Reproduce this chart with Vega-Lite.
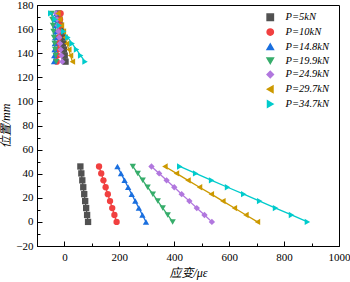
{
  "$schema": "https://vega.github.io/schema/vega-lite/v6.json",
  "width": 302,
  "height": 241,
  "autosize": {"type": "none"},
  "padding": {"left": 37, "top": 5, "right": 11, "bottom": 36},
  "background": "white",
  "config": {
    "view": {"stroke": "black", "strokeWidth": 1},
    "axis": {
      "grid": false,
      "domainColor": "black",
      "domainWidth": 1,
      "tickColor": "black",
      "labelFont": "Liberation Serif",
      "labelFontSize": 11,
      "labelColor": "black",
      "titleFont": "Liberation Serif, Noto Sans CJK SC",
      "titleFontSize": 12,
      "titleFontWeight": "normal",
      "titleFontStyle": "italic",
      "titleColor": "black"
    }
  },
  "data": {
    "values": [
      {"P": "P=5kN", "grp": "b", "strain": 86, "pos": 0},
      {"P": "P=5kN", "grp": "b", "strain": 82.5, "pos": 5.75},
      {"P": "P=5kN", "grp": "b", "strain": 79, "pos": 11.5},
      {"P": "P=5kN", "grp": "b", "strain": 75.5, "pos": 17.25},
      {"P": "P=5kN", "grp": "b", "strain": 72, "pos": 23},
      {"P": "P=5kN", "grp": "b", "strain": 68.5, "pos": 28.75},
      {"P": "P=5kN", "grp": "b", "strain": 65, "pos": 34.5},
      {"P": "P=5kN", "grp": "b", "strain": 61.5, "pos": 40.25},
      {"P": "P=5kN", "grp": "b", "strain": 58, "pos": 46},
      {"P": "P=10kN", "grp": "b", "strain": 190, "pos": 0},
      {"P": "P=10kN", "grp": "b", "strain": 182, "pos": 5.75},
      {"P": "P=10kN", "grp": "b", "strain": 174, "pos": 11.5},
      {"P": "P=10kN", "grp": "b", "strain": 166, "pos": 17.25},
      {"P": "P=10kN", "grp": "b", "strain": 158, "pos": 23},
      {"P": "P=10kN", "grp": "b", "strain": 150, "pos": 28.75},
      {"P": "P=10kN", "grp": "b", "strain": 142, "pos": 34.5},
      {"P": "P=10kN", "grp": "b", "strain": 134, "pos": 40.25},
      {"P": "P=10kN", "grp": "b", "strain": 126, "pos": 46},
      {"P": "P=14.8kN", "grp": "b", "strain": 297, "pos": 0},
      {"P": "P=14.8kN", "grp": "b", "strain": 284, "pos": 5.75},
      {"P": "P=14.8kN", "grp": "b", "strain": 271, "pos": 11.5},
      {"P": "P=14.8kN", "grp": "b", "strain": 258, "pos": 17.25},
      {"P": "P=14.8kN", "grp": "b", "strain": 245, "pos": 23},
      {"P": "P=14.8kN", "grp": "b", "strain": 232, "pos": 28.75},
      {"P": "P=14.8kN", "grp": "b", "strain": 219, "pos": 34.5},
      {"P": "P=14.8kN", "grp": "b", "strain": 206, "pos": 40.25},
      {"P": "P=14.8kN", "grp": "b", "strain": 193, "pos": 46},
      {"P": "P=19.9kN", "grp": "b", "strain": 394, "pos": 0},
      {"P": "P=19.9kN", "grp": "b", "strain": 376, "pos": 5.75},
      {"P": "P=19.9kN", "grp": "b", "strain": 358, "pos": 11.5},
      {"P": "P=19.9kN", "grp": "b", "strain": 340, "pos": 17.25},
      {"P": "P=19.9kN", "grp": "b", "strain": 322, "pos": 23},
      {"P": "P=19.9kN", "grp": "b", "strain": 303, "pos": 28.75},
      {"P": "P=19.9kN", "grp": "b", "strain": 285, "pos": 34.5},
      {"P": "P=19.9kN", "grp": "b", "strain": 267, "pos": 40.25},
      {"P": "P=19.9kN", "grp": "b", "strain": 249, "pos": 46},
      {"P": "P=24.9kN", "grp": "b", "strain": 537, "pos": 0},
      {"P": "P=24.9kN", "grp": "b", "strain": 510, "pos": 5.75},
      {"P": "P=24.9kN", "grp": "b", "strain": 482, "pos": 11.5},
      {"P": "P=24.9kN", "grp": "b", "strain": 455, "pos": 17.25},
      {"P": "P=24.9kN", "grp": "b", "strain": 427, "pos": 23},
      {"P": "P=24.9kN", "grp": "b", "strain": 400, "pos": 28.75},
      {"P": "P=24.9kN", "grp": "b", "strain": 372, "pos": 34.5},
      {"P": "P=24.9kN", "grp": "b", "strain": 345, "pos": 40.25},
      {"P": "P=24.9kN", "grp": "b", "strain": 317, "pos": 46},
      {"P": "P=29.7kN", "grp": "b", "strain": 703, "pos": 0},
      {"P": "P=29.7kN", "grp": "b", "strain": 661, "pos": 5.75},
      {"P": "P=29.7kN", "grp": "b", "strain": 619, "pos": 11.5},
      {"P": "P=29.7kN", "grp": "b", "strain": 577, "pos": 17.25},
      {"P": "P=29.7kN", "grp": "b", "strain": 535, "pos": 23},
      {"P": "P=29.7kN", "grp": "b", "strain": 492, "pos": 28.75},
      {"P": "P=29.7kN", "grp": "b", "strain": 450, "pos": 34.5},
      {"P": "P=29.7kN", "grp": "b", "strain": 408, "pos": 40.25},
      {"P": "P=29.7kN", "grp": "b", "strain": 366, "pos": 46},
      {"P": "P=34.7kN", "grp": "b", "strain": 885, "pos": 0},
      {"P": "P=34.7kN", "grp": "b", "strain": 827, "pos": 5.75},
      {"P": "P=34.7kN", "grp": "b", "strain": 769, "pos": 11.5},
      {"P": "P=34.7kN", "grp": "b", "strain": 711, "pos": 17.25},
      {"P": "P=34.7kN", "grp": "b", "strain": 653, "pos": 23},
      {"P": "P=34.7kN", "grp": "b", "strain": 594, "pos": 28.75},
      {"P": "P=34.7kN", "grp": "b", "strain": 536, "pos": 34.5},
      {"P": "P=34.7kN", "grp": "b", "strain": 478, "pos": 40.25},
      {"P": "P=34.7kN", "grp": "b", "strain": 420, "pos": 46},
      {"P": "P=5kN", "grp": "t", "strain": 4, "pos": 133},
      {"P": "P=5kN", "grp": "t", "strain": 1, "pos": 138},
      {"P": "P=5kN", "grp": "t", "strain": -2, "pos": 143},
      {"P": "P=5kN", "grp": "t", "strain": -6, "pos": 148},
      {"P": "P=5kN", "grp": "t", "strain": -9, "pos": 153},
      {"P": "P=5kN", "grp": "t", "strain": -12, "pos": 158},
      {"P": "P=5kN", "grp": "t", "strain": -15, "pos": 163},
      {"P": "P=5kN", "grp": "t", "strain": -19, "pos": 168},
      {"P": "P=5kN", "grp": "t", "strain": -22, "pos": 173},
      {"P": "P=10kN", "grp": "t", "strain": -28, "pos": 133},
      {"P": "P=10kN", "grp": "t", "strain": -26, "pos": 138},
      {"P": "P=10kN", "grp": "t", "strain": -24.5, "pos": 143},
      {"P": "P=10kN", "grp": "t", "strain": -23, "pos": 148},
      {"P": "P=10kN", "grp": "t", "strain": -21, "pos": 153},
      {"P": "P=10kN", "grp": "t", "strain": -19, "pos": 158},
      {"P": "P=10kN", "grp": "t", "strain": -17.5, "pos": 163},
      {"P": "P=10kN", "grp": "t", "strain": -16, "pos": 168},
      {"P": "P=10kN", "grp": "t", "strain": -14, "pos": 173},
      {"P": "P=14.8kN", "grp": "t", "strain": -38, "pos": 133},
      {"P": "P=14.8kN", "grp": "t", "strain": -37, "pos": 138},
      {"P": "P=14.8kN", "grp": "t", "strain": -36, "pos": 143},
      {"P": "P=14.8kN", "grp": "t", "strain": -35, "pos": 148},
      {"P": "P=14.8kN", "grp": "t", "strain": -34, "pos": 153},
      {"P": "P=14.8kN", "grp": "t", "strain": -33, "pos": 158},
      {"P": "P=14.8kN", "grp": "t", "strain": -32, "pos": 163},
      {"P": "P=14.8kN", "grp": "t", "strain": -31, "pos": 168},
      {"P": "P=14.8kN", "grp": "t", "strain": -30, "pos": 173},
      {"P": "P=19.9kN", "grp": "t", "strain": -30, "pos": 133},
      {"P": "P=19.9kN", "grp": "t", "strain": -32, "pos": 138},
      {"P": "P=19.9kN", "grp": "t", "strain": -34, "pos": 143},
      {"P": "P=19.9kN", "grp": "t", "strain": -36, "pos": 148},
      {"P": "P=19.9kN", "grp": "t", "strain": -38, "pos": 153},
      {"P": "P=19.9kN", "grp": "t", "strain": -40, "pos": 158},
      {"P": "P=19.9kN", "grp": "t", "strain": -42, "pos": 163},
      {"P": "P=19.9kN", "grp": "t", "strain": -44, "pos": 168},
      {"P": "P=19.9kN", "grp": "t", "strain": -46, "pos": 173},
      {"P": "P=24.9kN", "grp": "t", "strain": -8, "pos": 133},
      {"P": "P=24.9kN", "grp": "t", "strain": -11, "pos": 138},
      {"P": "P=24.9kN", "grp": "t", "strain": -13.5, "pos": 143},
      {"P": "P=24.9kN", "grp": "t", "strain": -16, "pos": 148},
      {"P": "P=24.9kN", "grp": "t", "strain": -19, "pos": 153},
      {"P": "P=24.9kN", "grp": "t", "strain": -22, "pos": 158},
      {"P": "P=24.9kN", "grp": "t", "strain": -24.5, "pos": 163},
      {"P": "P=24.9kN", "grp": "t", "strain": -27, "pos": 168},
      {"P": "P=24.9kN", "grp": "t", "strain": -30, "pos": 173},
      {"P": "P=29.7kN", "grp": "t", "strain": 29, "pos": 133},
      {"P": "P=29.7kN", "grp": "t", "strain": 22, "pos": 138},
      {"P": "P=29.7kN", "grp": "t", "strain": 16, "pos": 143},
      {"P": "P=29.7kN", "grp": "t", "strain": 9, "pos": 148},
      {"P": "P=29.7kN", "grp": "t", "strain": 2.5, "pos": 153},
      {"P": "P=29.7kN", "grp": "t", "strain": -4, "pos": 158},
      {"P": "P=29.7kN", "grp": "t", "strain": -11, "pos": 163},
      {"P": "P=29.7kN", "grp": "t", "strain": -17, "pos": 168},
      {"P": "P=29.7kN", "grp": "t", "strain": -24, "pos": 173},
      {"P": "P=34.7kN", "grp": "t", "strain": 75, "pos": 133},
      {"P": "P=34.7kN", "grp": "t", "strain": 59, "pos": 138},
      {"P": "P=34.7kN", "grp": "t", "strain": 44, "pos": 143},
      {"P": "P=34.7kN", "grp": "t", "strain": 28, "pos": 148},
      {"P": "P=34.7kN", "grp": "t", "strain": 12.5, "pos": 153},
      {"P": "P=34.7kN", "grp": "t", "strain": -3, "pos": 158},
      {"P": "P=34.7kN", "grp": "t", "strain": -19, "pos": 163},
      {"P": "P=34.7kN", "grp": "t", "strain": -34, "pos": 168},
      {"P": "P=34.7kN", "grp": "t", "strain": -50, "pos": 173}
    ]
  },
  "encoding": {
    "x": {
      "field": "strain",
      "type": "quantitative",
      "title": "应变/με",
      "scale": {"domain": [-100, 1000], "nice": false, "zero": false},
      "axis": {
        "values": [0, 100, 200, 300, 400, 500, 600, 700, 800, 900, 1000],
        "format": "d",
        "labelExpr": "datum.value % 200 === 0 ? datum.label : ''",
        "tickSize": {"condition": {"test": "datum.value % 200 === 0", "value": -5}, "value": -3},
        "labelPadding": 10,
        "titlePadding": 3,
        "labelFlush": false,
        "labelOverlap": false
      }
    },
    "y": {
      "field": "pos",
      "type": "quantitative",
      "title": "位置/mm",
      "scale": {"domain": [-20, 180], "nice": false, "zero": false},
      "axis": {
        "values": [-20, -10, 0, 10, 20, 30, 40, 50, 60, 70, 80, 90, 100, 110, 120, 130, 140, 150, 160, 170, 180],
        "labelExpr": "datum.value % 20 === 0 ? datum.label : ''",
        "tickSize": {"condition": {"test": "datum.value % 20 === 0", "value": -5}, "value": -3},
        "labelPadding": 9,
        "titlePadding": 3,
        "labelFlush": false,
        "labelOverlap": false
      }
    },
    "detail": {"field": "grp", "type": "nominal"}
  },
  "layer": [
    {
      "mark": {"type": "line", "strokeWidth": 1.3},
      "encoding": {
        "stroke": {
          "field": "P",
          "type": "nominal",
          "scale": {
            "domain": ["P=5kN", "P=10kN", "P=14.8kN", "P=19.9kN", "P=24.9kN", "P=29.7kN", "P=34.7kN"],
            "range": ["#515151", "#F14040", "#1A6FDF", "#37AD6B", "#B177DE", "#CC9900", "#00CBCC"]
          },
          "legend": {
            "title": null,
            "orient": "none",
            "legendX": 228,
            "legendY": 7,
            "padding": 0,
            "symbolSize": 40,
            "labelOffset": 10,
            "rowPadding": 1.8,
            "labelFont": "Liberation Serif",
            "labelFontStyle": "italic",
            "labelFontSize": 10.5,
            "labelColor": "black"
          }
        }
      }
    },
    {
      "mark": {"type": "point", "filled": true, "size": 40, "opacity": 1},
      "encoding": {
        "fill": {
          "field": "P",
          "type": "nominal",
          "scale": {
            "domain": ["P=5kN", "P=10kN", "P=14.8kN", "P=19.9kN", "P=24.9kN", "P=29.7kN", "P=34.7kN"],
            "range": ["#515151", "#F14040", "#1A6FDF", "#37AD6B", "#B177DE", "#CC9900", "#00CBCC"]
          },
          "legend": null
        },
        "shape": {
          "field": "P",
          "type": "nominal",
          "scale": {
            "domain": ["P=5kN", "P=10kN", "P=14.8kN", "P=19.9kN", "P=24.9kN", "P=29.7kN", "P=34.7kN"],
            "range": ["square", "circle", "triangle-up", "triangle-down", "diamond", "triangle-left", "triangle-right"]
          },
          "legend": null
        }
      }
    }
  ]
}
